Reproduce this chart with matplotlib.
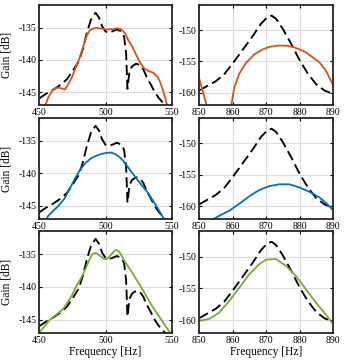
import matplotlib
matplotlib.use("Agg")
import matplotlib.pyplot as plt

plt.rcParams['font.family'] = ['Liberation Serif', 'DejaVu Serif']
plt.rcParams['axes.unicode_minus'] = False

# reference (dashed) curves, same in every row
ref_lo_f = [450, 455, 461, 466, 471, 476, 480, 483, 486, 489, 492.5, 495, 497.5, 500, 502, 505,
            508.5, 512, 514, 515.5, 516.5, 518, 520, 523, 526, 528.5, 531, 534, 537, 540, 543, 546, 550]
ref_lo_g = [-146.0, -145.3, -144.6, -143.9, -143.0, -141.5, -140.2, -138.3, -135.8, -133.8, -132.7,
            -133.4, -134.8, -135.6, -135.8, -135.6, -135.3, -135.6, -136.4, -139.0, -144.5, -141.8,
            -141.0, -140.6, -140.8, -141.5, -142.7, -143.8, -145.0, -145.9, -146.6, -147.2, -148.0]
ref_hi_f = [850, 852, 855, 857.5, 860, 863, 866, 868.5, 870.5, 871.7, 873, 875, 877.5, 880, 882.5,
            885, 887.5, 889, 890]
ref_hi_g = [-159.7, -159.1, -158.2, -157.1, -155.4, -153.2, -151.0, -149.0, -147.9, -147.7, -148.2,
            -149.8, -152.2, -154.8, -157.0, -158.7, -159.7, -160.0, -160.1]

# row 1 (orange)
or_lo_f = [454, 457, 461, 465, 469.5, 472, 475, 478, 480, 482, 484, 486, 488, 490, 493, 497, 501,
           505, 509, 511, 513, 515, 517, 520, 523, 526, 529, 532, 536, 539, 541, 543, 545, 547]
or_lo_g = [-147.5, -145.8, -144.5, -144.3, -144.6, -143.8, -142.6, -141.0, -140.0, -138.8, -137.4,
           -136.2, -135.5, -135.2, -135.05, -135.15, -135.3, -135.25, -135.1, -135.2, -135.5, -136.0,
           -136.9, -137.9, -139.2, -140.4, -141.3, -141.7, -142.0, -142.6, -143.4, -144.6, -146.0, -147.5]
or_hi_f = [850, 851, 852.5, 855, 858, 859.5, 860.5, 862, 864, 866.5, 869, 871, 873.5, 876, 878, 880,
           882, 884, 886, 888, 890]
or_hi_g = [-157.7, -159.5, -162.5, -166.0, -165.0, -162.5, -159.3, -157.0, -155.3, -153.9, -153.1,
           -152.7, -152.5, -152.5, -152.7, -153.1, -153.6, -154.4, -155.2, -156.6, -158.8]

# row 2 (blue)
bl_lo_f = [454, 457, 461, 465, 469, 473, 477, 481, 485, 489, 493, 497, 501, 504, 507, 510, 513, 516,
           520, 524, 528, 532, 536, 540, 544, 547]
bl_lo_g = [-147.5, -146.5, -145.7, -144.9, -143.9, -142.4, -140.8, -139.4, -138.4, -137.7, -137.3,
           -137.0, -136.85, -136.8, -137.0, -137.4, -138.0, -138.8, -139.9, -141.0, -142.0, -143.0,
           -144.3, -145.6, -147.0, -148.0]
bl_hi_f = [850, 853, 856, 859, 862, 865, 868, 871, 874, 877, 880, 883, 886, 888, 890]
bl_hi_g = [-163.2, -162.4, -161.5, -160.7, -159.6, -158.4, -157.4, -156.8, -156.5, -156.5, -157.0,
           -157.7, -158.6, -159.5, -160.6]

# row 3 (green)
gr_lo_f = [450, 454, 458, 463, 468, 472, 475, 478, 481, 484, 487, 489.5, 491.5, 493.5, 496, 498.5,
           500.5, 502.5, 505, 507.5, 509.5, 511.5, 513.5, 516, 519, 523, 527, 531, 535, 539, 543, 547, 550]
gr_lo_g = [-147.0, -146.0, -145.0, -144.2, -143.4, -142.2, -141.2, -139.9, -138.9, -137.7, -136.3,
           -135.2, -134.85, -134.9, -135.3, -135.7, -135.8, -135.5, -134.9, -134.4, -134.5, -135.0,
           -135.8, -136.6, -137.5, -138.8, -140.1, -141.5, -142.9, -144.1, -145.3, -146.5, -147.3]
gr_hi_f = [850, 853, 856, 859, 862, 865, 868, 870, 873, 876, 879, 882, 885, 888, 890]
gr_hi_g = [-160.1, -159.8, -158.8, -157.0, -154.9, -152.8, -151.2, -150.5, -150.4, -151.5, -153.1,
           -155.2, -157.3, -159.2, -160.6]

rows = [
    ('#D95319', or_lo_f, or_lo_g, or_hi_f, or_hi_g),
    ('#0072BD', bl_lo_f, bl_lo_g, bl_hi_f, bl_hi_g),
    ('#77AC30', gr_lo_f, gr_lo_g, gr_hi_f, gr_hi_g),
]

W, H = 344, 364
fig = plt.figure(figsize=(W / 100, H / 100), dpi=100)

col_x = [(39, 133), (199, 134)]
row_y = [(5, 100), (118, 101), (231, 102)]


def style(ax, xticks, yticks, xlim, ylim):
    ax.set_xlim(xlim)
    ax.set_ylim(ylim)
    ax.set_xticks(xticks)
    ax.set_yticks(yticks)
    ax.grid(True, color='#dcdcdc', lw=0.8)
    ax.set_axisbelow(True)
    ax.tick_params(direction='in', length=2.5, width=0.8, labelsize=7, pad=2,
                   top=True, right=True)
    for s in ax.spines.values():
        s.set_linewidth(1.3)
        s.set_color('#262626')


for i, (color, lf, lg, hf, hg) in enumerate(rows):
    y0, h = row_y[i]
    x0, w = col_x[0]
    ax = fig.add_axes([x0 / W, 1 - (y0 + h) / H, w / W, h / H])
    ax.plot(ref_lo_f, ref_lo_g, color='k', lw=1.35, dashes=(5.5, 2.5))
    ax.plot(lf, lg, color=color, lw=1.3)
    style(ax, [450, 500, 550], [-145, -140, -135], (450, 550), (-147, -131.5))
    ax.set_ylabel('Gain [dB]', fontsize=8.3, labelpad=4)

    x0, w = col_x[1]
    ax2 = fig.add_axes([x0 / W, 1 - (y0 + h) / H, w / W, h / H])
    ax2.plot(ref_hi_f, ref_hi_g, color='k', lw=1.35, dashes=(5.5, 2.5))
    ax2.plot(hf, hg, color=color, lw=1.3)
    style(ax2, [850, 860, 870, 880, 890], [-160, -155, -150], (850, 890), (-162, -146))

    if i == 2:
        ax.set_xlabel('Frequency [Hz]', fontsize=8.3, labelpad=1)
        ax2.set_xlabel('Frequency [Hz]', fontsize=8.3, labelpad=1)

fig.savefig('out.png', dpi=100)
